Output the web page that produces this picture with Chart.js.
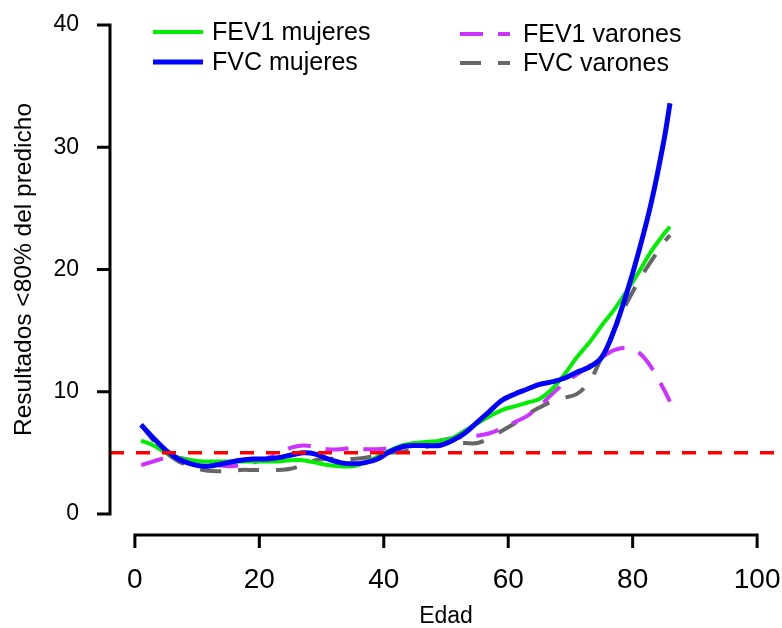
<!DOCTYPE html>
<html>
<head>
<meta charset="utf-8">
<script src="https://cdn.jsdelivr.net/npm/chart.js@4.4.1/dist/chart.umd.min.js"></script>
<style>
  html, body { margin: 0; padding: 0; background: #ffffff; }
  #wrap { width: 782px; height: 628px; }
</style>
</head>
<body>
<div id="wrap"><canvas id="chart" width="782" height="628"></canvas></div>
<script>
// Age (years) at which each smoothed proportion is sampled
const ages = [1, 3, 5, 7, 9, 11, 13, 15, 17, 19, 21, 23, 25, 27, 29, 31, 33, 35, 37, 39,
              41, 43, 45, 47, 49, 51, 53, 55, 57, 59, 61, 63, 65, 67, 69, 71, 73, 75, 77, 79,
              81, 83, 85, 86];

// % of results below 80% of predicted
const fev1Mujeres = [6.0, 5.6, 5.0, 4.6, 4.4, 4.3, 4.3, 4.3, 4.3, 4.3, 4.3, 4.3, 4.4, 4.4, 4.2, 4.0, 3.9, 3.9, 4.2, 4.7,
                     5.2, 5.6, 5.8, 5.9, 6.0, 6.2, 6.8, 7.4, 8.0, 8.5, 8.8, 9.1, 9.4, 10.2, 11.4, 12.8, 14.0, 15.4, 16.7, 18.2,
                     19.8, 21.5, 22.9, 23.5];
const fvcMujeres  = [7.3, 6.2, 5.2, 4.5, 4.1, 3.9, 4.0, 4.2, 4.4, 4.5, 4.5, 4.6, 4.8, 5.0, 4.9, 4.5, 4.2, 4.1, 4.2, 4.5,
                     5.1, 5.5, 5.6, 5.6, 5.6, 6.0, 6.6, 7.5, 8.4, 9.3, 9.8, 10.2, 10.6, 10.8, 11.1, 11.6, 12.0, 12.8, 15.0, 18.0,
                     21.5, 25.5, 30.5, 33.6];
const fev1Varones = [4.0, 4.3, 4.6, 4.6, 4.4, 4.2, 4.0, 3.9, 4.0, 4.2, 4.5, 4.9, 5.4, 5.6, 5.5, 5.3, 5.3, 5.4, 5.3, 5.3,
                     5.4, 5.6, 5.7, 5.8, 6.0, 6.2, 6.3, 6.4, 6.6, 7.0, 7.5, 8.0, 8.8, 9.8, 10.7, 11.4, 12.1, 12.8, 13.4, 13.6,
                     13.2, 12.0, 10.2, 9.2];
const fvcVarones  = [7.3, 6.0, 5.0, 4.3, 3.9, 3.6, 3.5, 3.5, 3.6, 3.6, 3.6, 3.6, 3.7, 4.0, 4.4, 4.5, 4.5, 4.5, 4.6, 4.8,
                     5.0, 5.1, 5.3, 5.5, 5.7, 5.8, 5.8, 5.8, 6.2, 6.8, 7.4, 8.1, 8.7, 9.2, 9.5, 9.8, 10.8, 12.8, 15.0, 17.2,
                     19.1, 20.7, 22.2, 22.8];

// Reference level (horizontal dashed line)
const threshold = 5;

// Axis ticks and ranges
const xTicks = [0, 20, 40, 60, 80, 100];
const yTicks = [0, 10, 20, 30, 40];
const xRange = [-4, 104];
const yRange = [-1.6, 41.6];

const FONT = '"Liberation Sans", Arial, Helvetica, sans-serif';

const toPoints = (xs, ys) => xs.map((x, i) => ({ x: x, y: ys[i] }));

// Base-graphics style axes: offset lines spanning only the tick range
const baseAxes = {
  id: 'baseAxes',
  afterDraw(chart) {
    const { ctx, chartArea, scales } = chart;
    const xs = scales.x, ys = scales.y;
    const TICK = 13;
    ctx.save();
    ctx.strokeStyle = '#000';
    ctx.lineWidth = 3;
    ctx.lineJoin = 'miter';
    ctx.lineCap = 'butt';

    // y axis
    const xl = chartArea.left;
    const yLo = ys.getPixelForValue(yTicks[0]);
    const yHi = ys.getPixelForValue(yTicks[yTicks.length - 1]);
    ctx.beginPath();
    ctx.moveTo(xl - TICK, yHi);
    ctx.lineTo(xl, yHi);
    ctx.lineTo(xl, yLo);
    ctx.lineTo(xl - TICK, yLo);
    ctx.stroke();
    ctx.beginPath();
    yTicks.slice(1, -1).forEach(v => {
      const p = ys.getPixelForValue(v);
      ctx.moveTo(xl, p);
      ctx.lineTo(xl - TICK, p);
    });
    ctx.stroke();

    // x axis
    const yb = chartArea.bottom + 1.5;
    const xLo = xs.getPixelForValue(xTicks[0]);
    const xHi = xs.getPixelForValue(xTicks[xTicks.length - 1]);
    ctx.beginPath();
    ctx.moveTo(xLo, yb + TICK);
    ctx.lineTo(xLo, yb);
    ctx.lineTo(xHi, yb);
    ctx.lineTo(xHi, yb + TICK);
    ctx.stroke();
    ctx.beginPath();
    xTicks.slice(1, -1).forEach(v => {
      const p = xs.getPixelForValue(v);
      ctx.moveTo(p, yb);
      ctx.lineTo(p, yb + TICK);
    });
    ctx.stroke();
    ctx.restore();
  }
};

// Two-column legend in the upper part of the plot
const legendSlots = [
  { x: 153, y: 32 },
  { x: 153, y: 62 },
  { x: 460, y: 34 },
  { x: 460, y: 63 }
];
const inlineLegend = {
  id: 'inlineLegend',
  afterDraw(chart) {
    const { ctx } = chart;
    ctx.save();
    chart.data.datasets.forEach((ds, i) => {
      const slot = legendSlots[i];
      if (!slot) return;
      ctx.beginPath();
      ctx.strokeStyle = ds.borderColor;
      ctx.lineWidth = ds.borderWidth;
      ctx.setLineDash(ds.borderDash || []);
      ctx.lineCap = 'butt';
      ctx.moveTo(slot.x, slot.y);
      ctx.lineTo(slot.x + 50, slot.y);
      ctx.stroke();
      ctx.setLineDash([]);
      ctx.fillStyle = '#000';
      ctx.font = '25px ' + FONT;
      ctx.textAlign = 'left';
      ctx.textBaseline = 'middle';
      ctx.fillText(ds.label, slot.x + (i < 2 ? 59 : 63), slot.y + 1);
    });
    ctx.restore();
  }
};

const series = [
  { label: 'FEV1 mujeres', data: fev1Mujeres, color: '#00ee00', width: 4, dash: [], order: 3 },
  { label: 'FVC mujeres',  data: fvcMujeres,  color: '#0000ff', width: 5, dash: [], order: 2 },
  { label: 'FEV1 varones', data: fev1Varones, color: '#cc33ff', width: 4, dash: [23, 15], order: 4 },
  { label: 'FVC varones',  data: fvcVarones,  color: '#666666', width: 4, dash: [21, 17], order: 5 }
];

const datasets = series.map(s => ({
  label: s.label,
  data: toPoints(ages, s.data),
  borderColor: s.color,
  borderWidth: s.width,
  borderDash: s.dash,
  pointRadius: 0,
  fill: false,
  tension: 0.35,
  order: s.order
}));

datasets.push({
  label: 'umbral',
  data: [{ x: xRange[0], y: threshold }, { x: xRange[1], y: threshold }],
  borderColor: '#ff0000',
  borderWidth: 3.5,
  borderDash: [14, 12],
  pointRadius: 0,
  fill: false,
  order: 1
});

new Chart(document.getElementById('chart'), {
  type: 'line',
  data: { datasets: datasets },
  options: {
    responsive: false,
    animation: false,
    events: [],
    layout: { padding: { top: 5.5, right: 0, bottom: 0, left: 0 } },
    plugins: {
      legend: { display: false },
      tooltip: { enabled: false }
    },
    scales: {
      x: {
        type: 'linear',
        min: xRange[0],
        max: xRange[1],
        afterBuildTicks: s => { s.ticks = xTicks.map(v => ({ value: v })); },
        afterFit: s => { s.height = 94.5; s.paddingLeft = 0; s.paddingRight = 0; },
        grid: { display: false, drawTicks: false },
        border: { display: false },
        ticks: {
          autoSkip: false, maxRotation: 0, minRotation: 0, padding: 30,
          color: '#000', font: { family: FONT, size: 28 }
        },
        title: {
          display: true, text: 'Edad', color: '#000',
          font: { family: FONT, size: 23, lineHeight: 1 },
          padding: { top: 0, bottom: 0 }
        }
      },
      y: {
        type: 'linear',
        min: yRange[0],
        max: yRange[1],
        afterBuildTicks: s => { s.ticks = yTicks.map(v => ({ value: v })); },
        afterFit: s => { s.width = 110; s.paddingTop = 0; s.paddingBottom = 0; },
        grid: { display: false, drawTicks: false },
        border: { display: false },
        ticks: {
          padding: 31, color: '#000', font: { family: FONT, size: 23 }
        },
        title: {
          display: true, text: 'Resultados <80% del predicho', color: '#000',
          font: { family: FONT, size: 24.5, lineHeight: 1 },
          padding: { top: 12, bottom: 0 }
        }
      }
    }
  },
  plugins: [baseAxes, inlineLegend]
});
</script>
</body>
</html>
